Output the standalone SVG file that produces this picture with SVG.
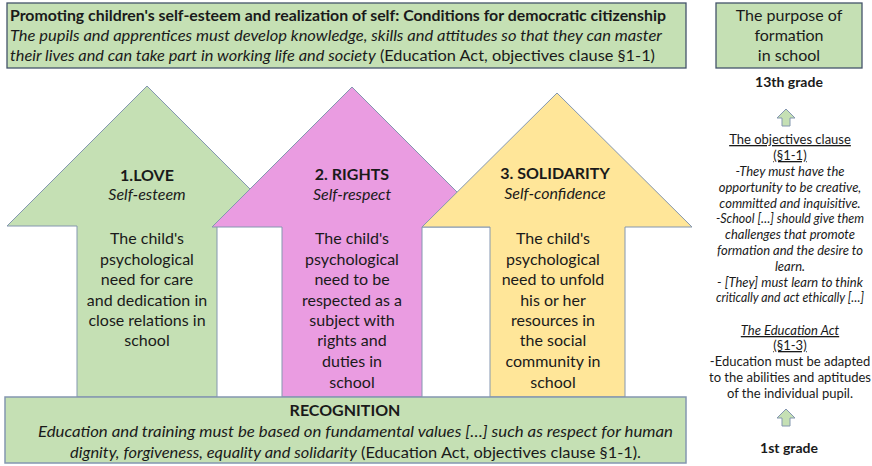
<svg xmlns="http://www.w3.org/2000/svg" width="872" height="466" viewBox="0 0 872 466">
<style>
text{font-family:Lato,"Open Sans","Liberation Sans",sans-serif;fill:#1a1a1a;}
.box{fill:#c5e0b4;stroke:#44546a;stroke-width:1.3;}
.arr{stroke:#8497b0;stroke-width:1;}
.g{fill:#c5e0b4;}
.p{fill:#ea9ce1;}
.y{fill:#ffe699;}
.t16{font-size:16px;}
.t13{font-size:13px;}
.b{font-weight:bold;}
.i{font-style:italic;}
.c{text-anchor:middle;}
.u{text-decoration:underline;}
</style>
<g id="top">
<rect class="box" x="7" y="3" width="679" height="65"/>
<text class="t16 b" x="10" y="21" textLength="656" lengthAdjust="spacingAndGlyphs">Promoting children's self-esteem and realization of self: Conditions for democratic citizenship</text>
<text class="t16 i" x="10" y="41" textLength="652" lengthAdjust="spacingAndGlyphs">The pupils and apprentices must develop knowledge, skills and attitudes so that they can master</text>
<text class="t16" x="10" y="61" textLength="645" lengthAdjust="spacingAndGlyphs"><tspan class="i">their lives and can take part in working life and society</tspan> (Education Act, objectives clause §1-1)</text>
</g>
<g id="purpose">
<rect class="box" x="716" y="3" width="146" height="65"/>
<text class="t16 c" x="789" y="21">The purpose of</text>
<text class="t16 c" x="789" y="41">formation</text>
<text class="t16 c" x="789" y="61">in school</text>
</g>
<g id="love">
<path class="arr g" d="M147,86 L287,226 L217,226 L217,397 L77,397 L77,226 L7,226 Z"/>
<text class="t16 b c" x="147" y="181">1.LOVE</text>
<text class="t16 i c" x="147" y="200">Self-esteem</text>
<text class="t16 c" x="147" y="244">The child's</text>
<text class="t16 c" x="147" y="265">psychological</text>
<text class="t16 c" x="147" y="285">need for care</text>
<text class="t16 c" x="147" y="306">and dedication in</text>
<text class="t16 c" x="147" y="326">close relations in</text>
<text class="t16 c" x="147" y="346">school</text>
</g>
<g id="rights">
<path class="arr p" d="M352,87 L492,227 L422,227 L422,397 L282,397 L282,227 L212,227 Z"/>
<text class="t16 b c" x="352" y="180">2. RIGHTS</text>
<text class="t16 i c" x="352" y="200">Self-respect</text>
<text class="t16 c" x="352" y="244">The child's</text>
<text class="t16 c" x="352" y="265">psychological</text>
<text class="t16 c" x="352" y="285">need to be</text>
<text class="t16 c" x="352" y="306">respected as a</text>
<text class="t16 c" x="352" y="326">subject with</text>
<text class="t16 c" x="352" y="346">rights and</text>
<text class="t16 c" x="352" y="367">duties in</text>
<text class="t16 c" x="352" y="388">school</text>
</g>
<g id="solidarity">
<path class="arr y" d="M557,93 L692,227 L625,227 L625,397 L490,397 L490,227 L422,227 Z"/>
<text class="t16 b c" x="555" y="179">3. SOLIDARITY</text>
<text class="t16 i c" x="555" y="199">Self-confidence</text>
<text class="t16 c" x="553" y="244">The child's</text>
<text class="t16 c" x="553" y="265">psychological</text>
<text class="t16 c" x="553" y="285">need to unfold</text>
<text class="t16 c" x="553" y="306">his or her</text>
<text class="t16 c" x="553" y="326">resources in</text>
<text class="t16 c" x="553" y="346">the social</text>
<text class="t16 c" x="553" y="367">community in</text>
<text class="t16 c" x="553" y="388">school</text>
</g>
<g id="recognition">
<rect class="box" x="5" y="397" width="681" height="66" style="stroke:#8497b0;stroke-width:1.5"/>
<text class="t16 b c" x="345" y="416">RECOGNITION</text>
<text class="t16 i" x="38" y="437" textLength="635" lengthAdjust="spacingAndGlyphs">Education and training must be based on fundamental values […] such as respect for human</text>
<text class="t16" x="70" y="458" textLength="571" lengthAdjust="spacingAndGlyphs"><tspan class="i">dignity, forgiveness, equality and solidarity</tspan> (Education Act, objectives clause §1-1).</text>
</g>
<g id="grades">
<text class="t16 b c" x="789" y="87" style="font-size:14px">13th grade</text>
<text class="t13 c u" x="790" y="144">The objectives clause</text>
<text class="t13 c u" x="790" y="160">(§1-1)</text>
<text class="t13 c i" x="790" y="176">-They must have the</text>
<text class="t13 c i" x="790" y="192">opportunity to be creative,</text>
<text class="t13 c i" x="790" y="208">committed and inquisitive.</text>
<text class="t13 c i" x="790" y="223" textLength="148" lengthAdjust="spacingAndGlyphs">-School […] should give them</text>
<text class="t13 c i" x="790" y="239">challenges that promote</text>
<text class="t13 c i" x="790" y="255">formation and the desire to</text>
<text class="t13 c i" x="790" y="271">learn.</text>
<text class="t13 c i" x="790" y="287">- [They] must learn to think</text>
<text class="t13 c i" x="790" y="302" textLength="148" lengthAdjust="spacingAndGlyphs">critically and act ethically […]</text>
<text class="t13 c i u" x="790" y="335">The Education Act</text>
<text class="t13 c u" x="790" y="350">(§1-3)</text>
<text class="t13 c" x="790" y="366">-Education must be adapted</text>
<text class="t13 c" x="790" y="382">to the abilities and aptitudes</text>
<text class="t13 c" x="790" y="398">of the individual pupil.</text>
<text class="t16 b c" x="789" y="453" style="font-size:14px">1st grade</text>
</g>
<g id="connectors">
<path class="arr g" d="M786,109 L795,118 L790,118 L790,126 L782,126 L782,118 L777,118 Z"/>
<path class="arr g" d="M786,409 L795,418 L790,418 L790,426 L782,426 L782,418 L777,418 Z"/>
</g>
</svg>
